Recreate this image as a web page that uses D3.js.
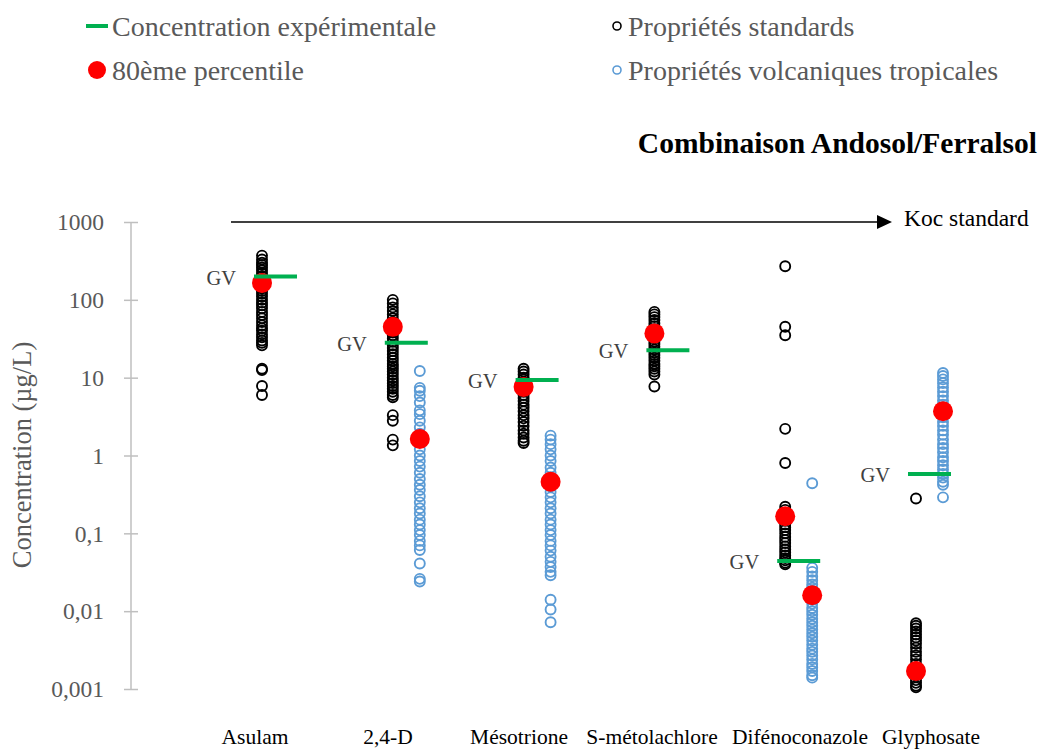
<!DOCTYPE html>
<html><head><meta charset="utf-8">
<script src="https://cdn.jsdelivr.net/npm/d3@7"></script>
<style>body{margin:0;background:#fff}svg{display:block}text{font-family:"Liberation Serif","Times New Roman",serif}</style>
</head><body>
<script>
const categories = ["Asulam","2,4-D","Mésotrione","S-métolachlore","Difénoconazole","Glyphosate"];
const standardValues = [
  [370,330,300,280,260,240,220,200,185,170,155,140,130,120,110,100,92,85,78,70,64,58,52,47,43,40,36,33,30,28,26,13,12.5,7.8,6.0],
  [100,90,80,72,65,58,52,47,42,38,35,32,29,26,24,22,20,18,16.5,15,14,13,12,11,10,9.2,8.5,7.8,7.2,6.6,6.0,5.6,3.3,2.8,1.6,1.35],
  [13,12,11,10,9.5,8.8,8,7.3,6.6,6,5.5,5,4.5,4.1,3.7,3.3,3.0,2.7,2.4,2.1,1.9,1.7,1.55,1.45],
  [70,65,60,55,50,46,42,38,35,32,29,27,25,23,21,19.5,18,16.5,15,14,13,12,11,7.7],
  [270,45,35,2.2,0.8,0.22,0.2,0.18,0.16,0.145,0.13,0.12,0.11,0.1,0.09,0.082,0.075,0.068,0.062,0.057,0.052,0.048,0.045,0.042,0.04],
  [0.28,0.007,0.0065,0.006,0.0055,0.005,0.0046,0.0042,0.0038,0.0034,0.003,0.0027,0.0024,0.0021,0.0019,0.0017,0.0015,0.0013,0.0012,0.0011,0.00105]
];
const volcanicValues = [
  [],
  [12.2,7.4,6.8,5.8,4.8,3.8,3.4,2.8,2.3,1.9,1.5,1.2,1.0,0.85,0.72,0.6,0.5,0.42,0.36,0.3,0.25,0.21,0.18,0.15,0.13,0.11,0.095,0.08,0.07,0.061,0.041,0.026,0.024],
  [1.8,1.6,1.4,1.2,1.0,0.85,0.7,0.6,0.52,0.46,0.4,0.34,0.29,0.25,0.21,0.18,0.15,0.13,0.11,0.095,0.08,0.07,0.06,0.05,0.043,0.037,0.032,0.029,0.014,0.0105,0.0072],
  [],
  [0.44,0.036,0.032,0.028,0.025,0.022,0.02,0.018,0.016,0.014,0.0125,0.011,0.01,0.009,0.008,0.0072,0.0065,0.0058,0.0052,0.0047,0.0042,0.0037,0.0033,0.003,0.0027,0.0024,0.0021,0.0019,0.0017,0.0015,0.0014],
  [11.5,10.5,9.5,8.5,7.5,6.6,5.8,5.1,4.5,4.0,3.5,3.1,2.7,2.4,2.1,1.85,1.6,1.4,1.25,1.1,0.95,0.85,0.75,0.66,0.58,0.52,0.46,0.42,0.29]
];
const experimental = [200,28,9.3,22.5,0.044,0.58];
const p80Standard = [165,45,7.6,37,0.166,0.0017];
const p80Volcanic = [null,1.63,0.46,null,0.016,3.7];
const yTicks = [0.001,0.01,0.1,1,10,100,1000];
const yTickLabels = ["0,001","0,01","0,1","1","10","100","1000"];
const legendLabels = ["Concentration expérimentale","80ème percentile","Propriétés standards","Propriétés volcaniques tropicales"];
const titleText = "Combinaison Andosol/Ferralsol";
const yTitle = "Concentration (µg/L)";
const arrowLabel = "Koc standard";

const W=1039,H=749;
const svg=d3.select("body").append("svg").attr("width",W).attr("height",H);
const y=d3.scaleLog().domain([0.001,1000]).range([689,222]);
const x=d3.scalePoint().domain(categories).range([262,916]);
const xLab=d3.scaleOrdinal().domain(categories).range([255,388,519,652,800,931]);
const blueOff=27;

// y axis
const yAxis=svg.append("g").attr("transform","translate(131,0)")
  .call(d3.axisLeft(y).tickValues(yTicks).tickFormat((d,i)=>yTickLabels[i]).tickSize(7).tickPadding(20));
yAxis.select(".domain").attr("stroke","#bfbfbf").attr("stroke-width",1.5).attr("d","M0,222V689");
yAxis.selectAll(".tick line").attr("stroke","#bfbfbf").attr("stroke-width",1.5).attr("x1",7).attr("x2",-7);
yAxis.selectAll(".tick text").attr("fill","#595959").attr("dy","0.33em").style("font-size","23.5px").style("font-family","Liberation Serif");

svg.append("text").attr("transform","translate(31,455) rotate(-90)").attr("text-anchor","middle")
  .attr("fill","#595959").style("font-size","26.5px").text(yTitle);

// x labels
const xg=svg.append("g");
xg.selectAll("text").data(categories).join("text")
  .attr("x",d=>xLab(d)).attr("y",744).attr("text-anchor","middle").attr("fill","#000")
  .style("font-size","21.5px").text(d=>d);

// arrow
svg.append("line").attr("x1",231).attr("x2",880).attr("y1",222).attr("y2",222).attr("stroke","#000").attr("stroke-width",1.5);
svg.append("path").attr("d","M877,215L892,222L877,229Z").attr("fill","#000");
svg.append("text").attr("x",904).attr("y",218).attr("dy","0.35em").style("font-size","23.5px").attr("fill","#000").text(arrowLabel);

// title
svg.append("text").attr("x",1037).attr("y",143).attr("dy","0.35em").attr("text-anchor","end")
  .style("font-size","29.5px").style("font-weight","bold").attr("fill","#000").text(titleText);

// points
categories.forEach((c,i)=>{
  svg.append("g").selectAll("circle").data(standardValues[i]).join("circle")
    .attr("cx",x(c)).attr("cy",d=>y(d)).attr("r",5).attr("fill","none").attr("stroke","#000").attr("stroke-width",1.9);
  svg.append("g").selectAll("circle").data(volcanicValues[i]).join("circle")
    .attr("cx",x(c)+blueOff).attr("cy",d=>y(d)).attr("r",5).attr("fill","none").attr("stroke","#5b9bd5").attr("stroke-width",1.9);
});
categories.forEach((c,i)=>{
  svg.append("circle").attr("cx",x(c)).attr("cy",y(p80Standard[i])).attr("r",10).attr("fill","#ff0000");
  if(p80Volcanic[i]!=null) svg.append("circle").attr("cx",x(c)+blueOff).attr("cy",y(p80Volcanic[i])).attr("r",10).attr("fill","#ff0000");
});
categories.forEach((c,i)=>{
  svg.append("line").attr("x1",x(c)-8).attr("x2",x(c)+35).attr("y1",y(experimental[i])).attr("y2",y(experimental[i]))
    .attr("stroke","#00b050").attr("stroke-width",4);
  svg.append("text").attr("x",x(c)-26).attr("y",y(experimental[i])+1).attr("dy","0.35em").attr("text-anchor","end")
    .attr("fill","#404040").style("font-size","20.5px").text("GV");
});

// legend
const lg=svg.append("g");
lg.append("line").attr("x1",86).attr("x2",108).attr("y1",26).attr("y2",26).attr("stroke","#00b050").attr("stroke-width",4);
lg.append("circle").attr("cx",97).attr("cy",70).attr("r",9).attr("fill","#ff0000");
lg.append("circle").attr("cx",617).attr("cy",26).attr("r",4).attr("fill","none").attr("stroke","#000").attr("stroke-width",1.6);
lg.append("circle").attr("cx",617).attr("cy",70).attr("r",4).attr("fill","none").attr("stroke","#5b9bd5").attr("stroke-width",1.6);
[[112,26],[112,70],[628,26],[628,70]].forEach((p,i)=>{
  lg.append("text").attr("x",p[0]).attr("y",p[1]).attr("dy","0.35em").attr("fill","#595959").style("font-size","28px").text(legendLabels[i]);
});
</script>
</body></html>
